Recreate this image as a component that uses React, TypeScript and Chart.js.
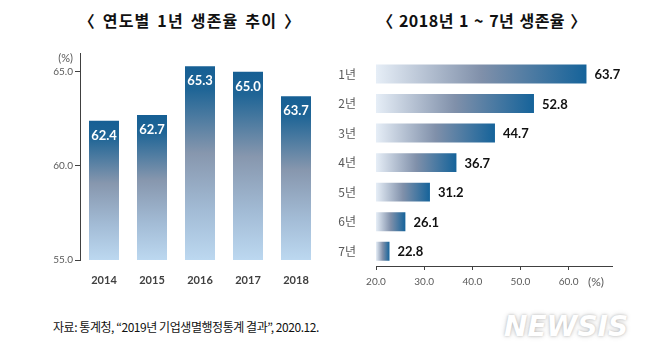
import React, { useEffect, useRef } from "react";
import { Chart, registerables } from "chart.js";

Chart.register(...registerables);

const years = ["2014", "2015", "2016", "2017", "2018"];
const yearlyRate = [62.4, 62.7, 65.3, 65.0, 63.7];
const yearTicks = [55, 60, 65];

const periods = ["1년", "2년", "3년", "4년", "5년", "6년", "7년"];
const periodRate = [63.7, 52.8, 44.7, 36.7, 31.2, 26.1, 22.8];
const periodTicks = [20, 30, 40, 50, 60];

const leftTitle = "〈 연도별 1년 생존율 추이 〉";
const rightTitle = "〈 2018년 1 ~ 7년 생존율 〉";
const sourceText = "자료: 통계청, “2019년 기업생멸행정통계 결과”, 2020.12.";
const unitLabel = "(%)";

const NUM_FONT = "Lato, 'Open Sans', sans-serif";
const KR_FONT = "'Noto Sans CJK KR', 'Noto Sans', sans-serif";

function vGradient(ctx: any) {
  const chart = ctx.chart;
  const area = chart.chartArea;
  if (!area || ctx.dataIndex === undefined) return "#5b7fa3";
  const ys = chart.scales.y;
  const v = ctx.dataset.data[ctx.dataIndex];
  const top = ys.getPixelForValue(v);
  const bottom = ys.getPixelForValue(ys.min);
  const g = chart.ctx.createLinearGradient(0, top, 0, bottom);
  g.addColorStop(0, "#165f94");
  g.addColorStop(0.12, "#1f6596");
  g.addColorStop(0.45, "#8797ae");
  g.addColorStop(0.75, "#a3bcd6");
  g.addColorStop(1, "#bcd8f0");
  return g;
}

function hGradient(ctx: any) {
  const chart = ctx.chart;
  const area = chart.chartArea;
  if (!area || ctx.dataIndex === undefined) return "#5b7fa3";
  const xs = chart.scales.x;
  const v = ctx.dataset.data[ctx.dataIndex];
  const left = xs.getPixelForValue(xs.min);
  const right = xs.getPixelForValue(v);
  const g = chart.ctx.createLinearGradient(left, 0, right, 0);
  g.addColorStop(0, "#e6eef7");
  g.addColorStop(0.5, "#8090aa");
  g.addColorStop(1, "#15639a");
  return g;
}

const leftLabels = {
  id: "leftLabels",
  afterDatasetsDraw(chart: any) {
    const ctx = chart.ctx;
    const meta = chart.getDatasetMeta(0);
    ctx.save();
    ctx.font = `bold 13px ${NUM_FONT}`;
    ctx.fillStyle = "#ffffff";
    ctx.textAlign = "center";
    ctx.textBaseline = "middle";
    meta.data.forEach((bar: any, i: number) => {
      ctx.fillText(yearlyRate[i].toFixed(1), bar.x, bar.y + 15);
    });
    const a = chart.chartArea;
    ctx.font = `11px ${NUM_FONT}`;
    ctx.fillStyle = "#595959";
    ctx.textAlign = "right";
    ctx.fillText(unitLabel, a.left - 7, a.top + 5);
    ctx.restore();
  },
};

const rightLabels = {
  id: "rightLabels",
  afterDatasetsDraw(chart: any) {
    const ctx = chart.ctx;
    const meta = chart.getDatasetMeta(0);
    ctx.save();
    ctx.font = `bold 13px ${NUM_FONT}`;
    ctx.fillStyle = "#111111";
    ctx.textAlign = "left";
    ctx.textBaseline = "middle";
    meta.data.forEach((bar: any, i: number) => {
      ctx.fillText(periodRate[i].toFixed(1), bar.x + 8, bar.y + 1);
    });
    const a = chart.chartArea;
    ctx.font = `12px ${NUM_FONT}`;
    ctx.fillStyle = "#595959";
    ctx.textAlign = "center";
    ctx.fillText(unitLabel, a.right - 16, a.bottom + 16);
    ctx.restore();
  },
};

function LeftChart() {
  const ref = useRef<HTMLCanvasElement>(null);
  useEffect(() => {
    const chart = new Chart(ref.current!, {
      type: "bar",
      data: {
        labels: years,
        datasets: [
          {
            data: yearlyRate,
            backgroundColor: vGradient,
            categoryPercentage: 1,
            barPercentage: 0.625,
            borderWidth: 0,
          },
        ],
      },
      options: {
        responsive: false,
        animation: false,
        layout: { padding: { top: 13, right: 10, left: 0, bottom: 0 } },
        plugins: { legend: { display: false }, tooltip: { enabled: false } },
        scales: {
          x: {
            grid: { display: false },
            border: { display: false },
            ticks: {
              color: "#404040",
              font: { family: NUM_FONT, size: 11, weight: "bold" },
              padding: 6,
            },
            afterFit(s: any) {
              s.height = 30;
            },
          },
          y: {
            min: 55,
            max: 66,
            afterBuildTicks(s: any) {
              s.ticks = yearTicks.map((v) => ({ value: v }));
            },
            grid: {
              drawOnChartArea: false,
              tickLength: 5,
              color: "#404040",
            },
            border: { display: true, color: "#404040", width: 1 },
            ticks: {
              color: "#595959",
              font: { family: NUM_FONT, size: 10 },
              padding: 2,
              callback: (v: any) => Number(v).toFixed(1),
            },
            afterFit(s: any) {
              s.width = 40;
            },
          },
        },
      },
      plugins: [leftLabels],
    } as any);
    return () => chart.destroy();
  }, []);
  return (
    <canvas
      ref={ref}
      width={290}
      height={250}
      style={{ position: "absolute", left: 40, top: 40, width: 290, height: 250 }}
    />
  );
}

function RightChart() {
  const ref = useRef<HTMLCanvasElement>(null);
  useEffect(() => {
    const chart = new Chart(ref.current!, {
      type: "bar",
      data: {
        labels: periods,
        datasets: [
          {
            data: periodRate,
            backgroundColor: hGradient,
            categoryPercentage: 1,
            barPercentage: 0.64,
            borderWidth: 0,
          },
        ],
      },
      options: {
        indexAxis: "y",
        responsive: false,
        animation: false,
        layout: { padding: { top: 8, right: 38, left: 0, bottom: 0 } },
        plugins: { legend: { display: false }, tooltip: { enabled: false } },
        scales: {
          x: {
            min: 20,
            max: 69,
            afterBuildTicks(s: any) {
              s.ticks = periodTicks.map((v) => ({ value: v }));
            },
            grid: { drawOnChartArea: false, tickLength: 4, color: "#404040" },
            border: { display: true, color: "#404040", width: 1 },
            ticks: {
              color: "#595959",
              font: { family: NUM_FONT, size: 10 },
              padding: 6,
              callback: (v: any) => Number(v).toFixed(1),
            },
            afterFit(s: any) {
              s.height = 34;
            },
          },
          y: {
            grid: { display: false },
            border: { display: false },
            ticks: {
              color: "#595959",
              font: { family: KR_FONT, size: 12 },
              padding: 12,
            },
            afterFit(s: any) {
              s.width = 46;
            },
          },
        },
      },
      plugins: [rightLabels],
    } as any);
    return () => chart.destroy();
  }, []);
  return (
    <canvas
      ref={ref}
      width={320}
      height={260}
      style={{ position: "absolute", left: 330, top: 40, width: 320, height: 260 }}
    />
  );
}

export default function App() {
  return (
    <div
      style={{
        position: "absolute",
        left: 0,
        top: 0,
        width: 656,
        height: 359,
        background: "#ffffff",
        overflow: "hidden",
      }}
    >
      <div
        style={{
          position: "absolute",
          left: 40,
          width: 300,
          top: 8,
          textAlign: "center",
          font: `bold 16px ${KR_FONT}`,
          letterSpacing: "1.2px",
          wordSpacing: "2px",
          color: "#111",
          lineHeight: "24px",
          whiteSpace: "pre",
        }}
      >
        {leftTitle}
      </div>
      <div
        style={{
          position: "absolute",
          left: 332,
          width: 300,
          top: 8,
          textAlign: "center",
          font: `bold 16px ${KR_FONT}`,
          letterSpacing: "0.5px",
          wordSpacing: "1px",
          color: "#111",
          lineHeight: "24px",
          whiteSpace: "pre",
        }}
      >
        {rightTitle}
      </div>
      <LeftChart />
      <RightChart />
      <div
        style={{
          position: "absolute",
          left: 53,
          top: 318,
          font: `12px ${KR_FONT}`,
          letterSpacing: "-0.45px",
          color: "#111",
          lineHeight: "18px",
          whiteSpace: "pre",
        }}
      >
        {sourceText}
      </div>
      <div
        style={{
          position: "absolute",
          left: 504,
          top: 311,
          font: `italic bold 28px 'DejaVu Sans', sans-serif`,
          letterSpacing: "0px",
          color: "#ffffff",
          textShadow: "0 0 3px rgba(0,0,0,0.25), 0 0 6px rgba(0,0,0,0.12)",
          lineHeight: "32px",
          whiteSpace: "pre",
        }}
      >
        NEWSIS
      </div>
    </div>
  );
}
